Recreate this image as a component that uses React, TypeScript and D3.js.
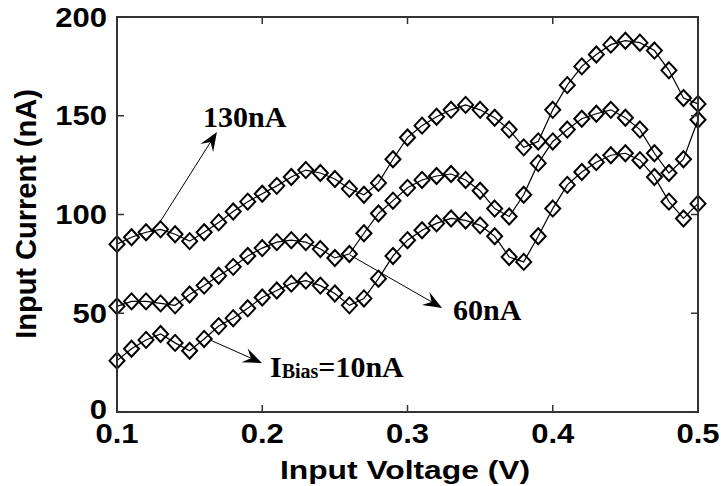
import React from "react";
import * as d3 from "d3";

const voltage = [0.10, 0.11, 0.12, 0.13, 0.14, 0.15, 0.16, 0.17, 0.18, 0.19, 0.20, 0.21, 0.22, 0.23, 0.24, 0.25, 0.26, 0.27, 0.28, 0.29, 0.30, 0.31, 0.32, 0.33, 0.34, 0.35, 0.36, 0.37, 0.38, 0.39, 0.40, 0.41, 0.42, 0.43, 0.44, 0.45, 0.46, 0.47, 0.48, 0.49, 0.50];
const bias130 = [85, 88.5, 91, 92.5, 90, 86.5, 91, 96, 101.5, 106.5, 110.5, 114.5, 119, 122.5, 121, 118, 113, 110, 116, 128, 139, 145, 149.5, 153, 155.5, 153, 149, 143, 134, 137, 153, 165.5, 175, 181, 186, 188, 187, 183, 173, 159, 156];
const bias60 = [53.5, 56, 56, 55, 54, 59.5, 64, 69, 73.5, 79, 83, 86, 87, 86, 82.5, 78, 80, 90.5, 100.5, 107, 113.5, 117.5, 119.5, 120.5, 117.5, 112, 103, 99, 110, 126, 137, 143, 148.5, 151, 153, 149, 143, 131, 121, 128, 148];
const bias10 = [26, 32, 36.5, 39.5, 35, 31, 37, 43.5, 47.5, 52.5, 58, 61.5, 65, 66.5, 64, 60, 54, 57.5, 67.5, 79, 87, 92, 95.5, 98, 97, 94.5, 89, 78.5, 76, 89, 103, 115, 121.5, 126.5, 130, 131, 127.5, 119, 106.5, 98, 105.5];
const xTicks = [0.1, 0.2, 0.3, 0.4, 0.5];
const yTicks = [0, 50, 100, 150, 200];
const xLabel = "Input Voltage (V)";
const yLabel = "Input Current (nA)";

// annotations: arrow start (x, y) -> tip (x, y), label position
const arrowFromX = [0.1296, 0.2604, 0.164];
const arrowFromY = [96.2, 79.5, 36.5];
const arrowToX = [0.1688, 0.3238, 0.1998];
const arrowToY = [141.8, 52.7, 24.8];
const labelX = [0.1592, 0.3313, 0.2053];
const labelY = [144.3, 46.6, 17.7];

const W = 721;
const H = 486;
const M = { left: 117, right: 698, top: 17, bottom: 412 };

export default function App() {
  const x = d3.scaleLinear().domain([0.1, 0.5]).range([M.left, M.right]);
  const y = d3.scaleLinear().domain([0, 200]).range([M.bottom, M.top]);
  const series = [bias130, bias60, bias10];
  const line = d3
    .line<number>()
    .x((_, i) => x(voltage[i]))
    .y((d) => y(d));
  const diamond = (cx: number, cy: number) =>
    `M${cx},${cy - 8}L${cx + 7.5},${cy}L${cx},${cy + 8}L${cx - 7.5},${cy}Z`;
  const sans = "'Liberation Sans', Arial, sans-serif";
  const serif = "'Liberation Serif', 'Times New Roman', serif";
  const tickLen = 7;
  const axisColor = "#333";

  const arrowHead = (x1: number, y1: number, x2: number, y2: number) => {
    const ang = (Math.atan2(y2 - y1, x2 - x1) * 180) / Math.PI;
    const L = 19, hw = 7.5, notch = 12;
    return (
      <path
        d={`M0,0L${-L},${hw}L${-notch},0L${-L},${-hw}Z`}
        transform={`translate(${x2},${y2}) rotate(${ang})`}
        fill="#000"
      />
    );
  };

  return (
    <div style={{ position: "absolute", left: 0, top: 0 }}>
      <svg width={W} height={H} style={{ display: "block", background: "#fff" }}>
        {/* data */}
        {series.map((s, si) => (
          <g key={si}>
            <path d={line(s) || ""} fill="none" stroke="#000" strokeWidth={1.2} />
            {s.map((v, i) => (
              <path key={i} d={diamond(x(voltage[i]), y(v))} fill="none" stroke="#000" strokeWidth={2} />
            ))}
          </g>
        ))}
        {/* frame */}
        <rect x={M.left} y={M.top} width={M.right - M.left} height={M.bottom - M.top} fill="none" stroke={axisColor} strokeWidth={2} />
        {xTicks.map((t) => (
          <g key={"x" + t}>
            <line x1={x(t)} x2={x(t)} y1={M.bottom} y2={M.bottom - tickLen} stroke={axisColor} strokeWidth={1.5} />
            <line x1={x(t)} x2={x(t)} y1={M.top} y2={M.top + tickLen} stroke={axisColor} strokeWidth={1.5} />
            <text transform={`translate(${x(t)},443) scale(1.15,1)`} textAnchor="middle" fontFamily={sans} fontWeight="bold" fontSize={27} fill="#000">
              {t.toFixed(1)}
            </text>
          </g>
        ))}
        {yTicks.map((t) => (
          <g key={"y" + t}>
            <line x1={M.left} x2={M.left + tickLen} y1={y(t)} y2={y(t)} stroke={axisColor} strokeWidth={1.5} />
            <line x1={M.right} x2={M.right - tickLen} y1={y(t)} y2={y(t)} stroke={axisColor} strokeWidth={1.5} />
            <text transform={`translate(107,${y(t) + (t === 0 ? 7 : 9.5)}) scale(1.15,1)`} textAnchor="end" fontFamily={sans} fontWeight="bold" fontSize={27} fill="#000">
              {t}
            </text>
          </g>
        ))}
        <text transform={`translate(405,479) scale(1.2,1)`} textAnchor="middle" fontFamily={sans} fontWeight="bold" fontSize={26.5} fill="#000">
          {xLabel}
        </text>
        <text transform={`translate(36,214) rotate(-90)`} textAnchor="middle" fontFamily={sans} fontWeight="bold" fontSize={29} fill="#000">
          {yLabel}
        </text>
        {/* annotations */}
        {arrowFromX.map((_, i) => {
          const x1 = x(arrowFromX[i]), y1 = y(arrowFromY[i]);
          const x2 = x(arrowToX[i]), y2 = y(arrowToY[i]);
          return (
            <g key={"a" + i}>
              <line x1={x1} y1={y1} x2={x2 - (x2 - x1) * 0.1} y2={y2 - (y2 - y1) * 0.1} stroke="#000" strokeWidth={1} />
              {arrowHead(x1, y1, x2, y2)}
            </g>
          );
        })}
        <text x={x(labelX[0])} y={y(labelY[0])} fontFamily={serif} fontWeight="bold" fontSize={30} fill="#000">130nA</text>
        <text x={x(labelX[1])} y={y(labelY[1])} fontFamily={serif} fontWeight="bold" fontSize={30} fill="#000">60nA</text>
        <text x={x(labelX[2])} y={y(labelY[2])} fontFamily={serif} fontWeight="bold" fontSize={30} fill="#000">
          I<tspan fontSize={20} dy={1}>Bias</tspan><tspan dy={-1}>=10nA</tspan>
        </text>
      </svg>
    </div>
  );
}
